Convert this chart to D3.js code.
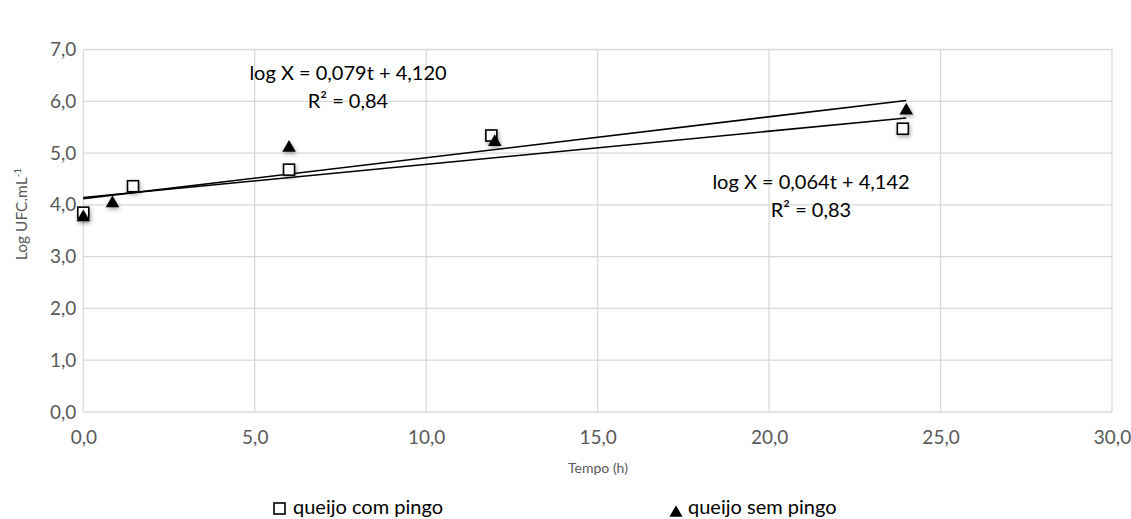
<!DOCTYPE html>
<html>
<head>
<meta charset="utf-8">
<script src="https://cdn.jsdelivr.net/npm/d3@7"></script>
<style>
body { margin: 0; background: #fff; }
text { font-family: Lato, "Open Sans", sans-serif; }
</style>
</head>
<body>
<script>
// data
var comPingoT = [0, 1.45, 6, 11.9, 23.9];
var comPingoY = [3.85, 4.36, 4.68, 5.34, 5.47];
var semPingoT = [0, 0.85, 6, 12, 24];
var semPingoY = [3.76, 4.03, 5.1, 5.21, 5.82];

// trendlines (from the equations on the chart)
var trendCom = { slope: 0.064, intercept: 4.142, label: "log X = 0,064t + 4,142", r2: "R² = 0,83" };
var trendSem = { slope: 0.079, intercept: 4.120, label: "log X = 0,079t + 4,120", r2: "R² = 0,84" };

var xTicks = [0, 5, 10, 15, 20, 25, 30];
var yTicks = [0, 1, 2, 3, 4, 5, 6, 7];

var W = 1131, H = 519;
var svg = d3.select("body").append("svg").attr("width", W).attr("height", H);

var defs = svg.append("defs");
var f = defs.append("filter").attr("id", "shadow").attr("x", "-100%").attr("y", "-100%")
    .attr("width", "300%").attr("height", "300%");
f.append("feDropShadow").attr("dx", 1).attr("dy", 2).attr("stdDeviation", 2)
    .attr("flood-color", "#000").attr("flood-opacity", 0.35);

var x = d3.scaleLinear().domain([0, 30]).range([83.3, 1112]);
var y = d3.scaleLinear().domain([0, 7]).range([412, 49.5]);

var fmt = function(d) { return d3.format(".1f")(d).replace(".", ","); };

// gridlines
svg.append("g").selectAll("line.h").data(yTicks).enter().append("line")
    .attr("x1", x(0)).attr("x2", x(30))
    .attr("y1", function(d) { return y(d); }).attr("y2", function(d) { return y(d); })
    .attr("stroke", "#d9d9d9").attr("stroke-width", 1.3);
svg.append("g").selectAll("line.v").data(xTicks).enter().append("line")
    .attr("y1", y(0)).attr("y2", y(7))
    .attr("x1", function(d) { return x(d); }).attr("x2", function(d) { return x(d); })
    .attr("stroke", "#d9d9d9").attr("stroke-width", 1.3);

// axes (labels only)
var xAxis = svg.append("g").attr("transform", "translate(0," + (y(0) + 15) + ")")
    .call(d3.axisBottom(x).tickValues(xTicks).tickFormat(fmt).tickSize(0));
var yAxis = svg.append("g").attr("transform", "translate(" + (x(0) - 4) + ",0)")
    .call(d3.axisLeft(y).tickValues(yTicks).tickFormat(fmt).tickSize(0));
[xAxis, yAxis].forEach(function(a) {
    a.select(".domain").remove();
    a.selectAll("text").attr("fill", "#595959").style("font-size", "19px")
        .style("font-family", 'Lato, "Open Sans", sans-serif');
});

// axis titles
svg.append("text").attr("x", 598).attr("y", 473).attr("text-anchor", "middle")
    .attr("fill", "#595959").style("font-size", "14px").text("Tempo (h)");
var yt = svg.append("text").attr("transform", "translate(27,214) rotate(-90)")
    .attr("text-anchor", "middle").attr("fill", "#595959").style("font-size", "15.5px");
yt.append("tspan").text("Log UFC.mL");
yt.append("tspan").attr("dy", -6).style("font-size", "10px").text("-1");

// trendlines
var trendLine = function(tr) {
    svg.append("line")
        .attr("x1", x(0)).attr("y1", y(tr.intercept))
        .attr("x2", x(24)).attr("y2", y(tr.intercept + tr.slope * 24))
        .attr("stroke", "#000").attr("stroke-width", 1.6);
};
trendLine(trendCom);
trendLine(trendSem);

// markers
var sq = 11;
svg.append("g").selectAll("rect").data(comPingoT).enter().append("rect")
    .attr("x", function(d) { return x(d) - sq / 2; })
    .attr("y", function(d, i) { return y(comPingoY[i]) - sq / 2; })
    .attr("width", sq).attr("height", sq)
    .attr("fill", "#fff").attr("stroke", "#000").attr("stroke-width", 1.6)
    .attr("filter", "url(#shadow)");

var tri = d3.symbol().type(d3.symbolTriangle).size(80);
svg.append("g").selectAll("path").data(semPingoT).enter().append("path")
    .attr("d", tri)
    .attr("transform", function(d, i) { return "translate(" + x(d) + "," + y(semPingoY[i]) + ")"; })
    .attr("fill", "#000").attr("filter", "url(#shadow)");

// equation labels
var eq = function(tr, cx, cy) {
    svg.append("text").attr("x", cx).attr("y", cy).attr("text-anchor", "middle")
        .attr("fill", "#000").style("font-size", "20px").text(tr.label);
    svg.append("text").attr("x", cx).attr("y", cy + 28).attr("text-anchor", "middle")
        .attr("fill", "#000").style("font-size", "20px").text(tr.r2);
};
eq(trendSem, 348, 80);
eq(trendCom, 811, 189);

// legend
var tri2 = d3.symbol().type(d3.symbolTriangle).size(75);
svg.append("rect").attr("x", 274).attr("y", 503).attr("width", 11).attr("height", 11)
    .attr("fill", "#fff").attr("stroke", "#000").attr("stroke-width", 1.6);
svg.append("text").attr("x", 293).attr("y", 514).attr("fill", "#000")
    .style("font-size", "20px").text("queijo com pingo");
svg.append("path").attr("d", tri2).attr("transform", "translate(676,513)").attr("fill", "#000");
svg.append("text").attr("x", 688).attr("y", 514).attr("fill", "#000")
    .style("font-size", "20px").text("queijo sem pingo");
</script>
</body>
</html>
